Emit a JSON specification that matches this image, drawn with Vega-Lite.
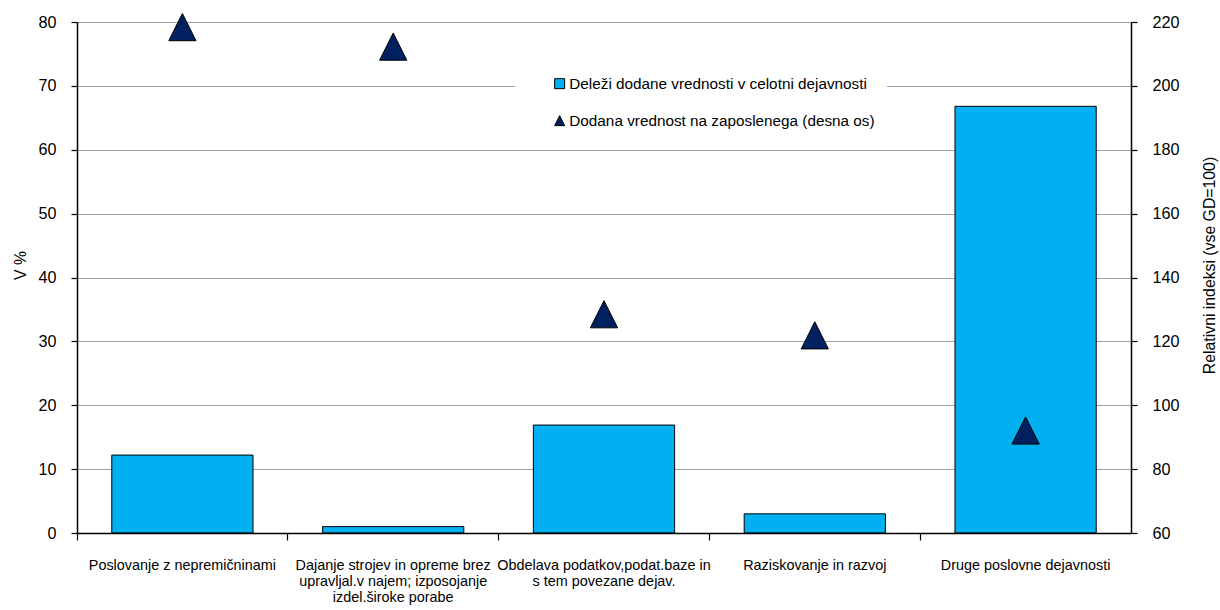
{
  "$schema": "https://vega.github.io/schema/vega-lite/v6.json",
  "autosize": {"type": "none"},
  "width": 1054,
  "height": 511,
  "padding": {"left": 77, "top": 22, "right": 89, "bottom": 77},
  "background": "white",
  "config": {
    "view": {"stroke": null},
    "font": "Liberation Sans",
    "axis": {
      "labelFont": "Liberation Sans",
      "titleFont": "Liberation Sans",
      "labelColor": "#000",
      "titleColor": "#000",
      "titleFontWeight": "normal",
      "domainColor": "#000",
      "domainWidth": 1.5,
      "tickColor": "#000",
      "tickWidth": 1.2
    },
    "legend": {"labelFont": "Liberation Sans"}
  },
  "data": {
    "values": [
      {"cat": "Poslovanje z nepremičninami", "series": "Deleži dodane vrednosti v celotni dejavnosti", "value": 12.2},
      {"cat": "Dajanje strojev in opreme brez upravljal.v najem; izposojanje izdel.široke porabe", "series": "Deleži dodane vrednosti v celotni dejavnosti", "value": 1.0},
      {"cat": "Obdelava podatkov,podat.baze in s tem povezane dejav.", "series": "Deleži dodane vrednosti v celotni dejavnosti", "value": 16.9},
      {"cat": "Raziskovanje in razvoj", "series": "Deleži dodane vrednosti v celotni dejavnosti", "value": 3.0},
      {"cat": "Druge poslovne dejavnosti", "series": "Deleži dodane vrednosti v celotni dejavnosti", "value": 66.8},
      {"cat": "Poslovanje z nepremičninami", "series": "Dodana vrednost na zaposlenega (desna os)", "value": 218.4},
      {"cat": "Dajanje strojev in opreme brez upravljal.v najem; izposojanje izdel.široke porabe", "series": "Dodana vrednost na zaposlenega (desna os)", "value": 212.3},
      {"cat": "Obdelava podatkov,podat.baze in s tem povezane dejav.", "series": "Dodana vrednost na zaposlenega (desna os)", "value": 128.5},
      {"cat": "Raziskovanje in razvoj", "series": "Dodana vrednost na zaposlenega (desna os)", "value": 121.9},
      {"cat": "Druge poslovne dejavnosti", "series": "Dodana vrednost na zaposlenega (desna os)", "value": 92.1}
    ]
  },
  "encoding": {
    "x": {
      "field": "cat",
      "type": "nominal",
      "sort": null,
      "scale": {"paddingInner": 0, "paddingOuter": 0},
      "axis": {
        "title": null,
        "zindex": 1,
        "labelAngle": 0,
        "bandPosition": 0,
        "labelAlign": "center",
        "labelBaseline": "top",
        "labelFontSize": 14.4,
        "labelLineHeight": 16,
        "labelPadding": 18,
        "labelLimit": 400,
        "labelOverlap": false,
        "tickSize": 7,
        "grid": false,
        "labelExpr": "datum.label == 'Dajanje strojev in opreme brez upravljal.v najem; izposojanje izdel.široke porabe' ? ['Dajanje strojev in opreme brez','upravljal.v najem; izposojanje','izdel.široke porabe'] : datum.label == 'Obdelava podatkov,podat.baze in s tem povezane dejav.' ? ['Obdelava podatkov,podat.baze in','s tem povezane dejav.'] : datum.label"
      }
    },
    "color": {
      "field": "series",
      "type": "nominal",
      "scale": {
        "domain": ["Deleži dodane vrednosti v celotni dejavnosti", "Dodana vrednost na zaposlenega (desna os)"],
        "range": ["#00B0F0", "#002060"]
      },
      "legend": {
        "title": null,
        "orient": "none",
        "legendX": 438,
        "legendY": 42,
        "fillColor": "white",
        "padding": 12,
        "symbolOffset": 25,
        "labelOffset": 2,
        "labelFontSize": 15.3,
        "labelColor": "#000",
        "labelLimit": 500,
        "rowPadding": 21,
        "symbolSize": 100,
        "symbolStrokeColor": "#000",
        "symbolStrokeWidth": 1
      }
    }
  },
  "layer": [
    {
      "transform": [{"filter": "datum.series == 'Deleži dodane vrednosti v celotni dejavnosti'"}],
      "mark": {"type": "bar", "stroke": "#000", "strokeWidth": 1, "width": {"band": 0.67}},
      "encoding": {
        "y": {
          "field": "value",
          "type": "quantitative",
          "scale": {"domain": [0, 80], "nice": false},
          "axis": {
            "title": "V %",
            "titleFontSize": 15.8,
            "titleX": -57,
            "titleY": 243,
            "titleBaseline": "middle",
            "titleAlign": "center",
            "titleAngle": -90,
            "values": [0, 10, 20, 30, 40, 50, 60, 70, 80],
            "labelFontSize": 16.2,
            "labelPadding": 15,
            "tickSize": 6,
            "grid": true,
            "gridColor": "#a0a0a0",
            "gridWidth": 1.2
          }
        }
      }
    },
    {
      "transform": [{"filter": "datum.series == 'Dodana vrednost na zaposlenega (desna os)'"}],
      "mark": {"type": "point", "filled": true, "stroke": "#000", "strokeWidth": 1, "opacity": 1, "size": 740},
      "encoding": {
        "y": {
          "field": "value",
          "type": "quantitative",
          "scale": {"domain": [60, 220], "nice": false},
          "axis": {
            "orient": "right",
            "title": "Relativni indeksi (vse GD=100)",
            "titleAngle": -90,
            "titleFontSize": 15.8,
            "titleX": 78,
            "titleY": 243,
            "titleBaseline": "middle",
            "titleAlign": "center",
            "values": [60, 80, 100, 120, 140, 160, 180, 200, 220],
            "labelFontSize": 16.2,
            "labelPadding": 15,
            "tickSize": 6,
            "grid": false
          }
        },
        "shape": {
          "field": "series",
          "type": "nominal",
          "scale": {
            "domain": ["Deleži dodane vrednosti v celotni dejavnosti", "Dodana vrednost na zaposlenega (desna os)"],
            "range": ["square", "M-1,1L1,1L0,-1Z"]
          },
          "legend": {
            "title": null,
            "orient": "none",
            "legendX": 438,
            "legendY": 42
          }
        }
      }
    }
  ],
  "resolve": {"scale": {"y": "independent"}}
}
